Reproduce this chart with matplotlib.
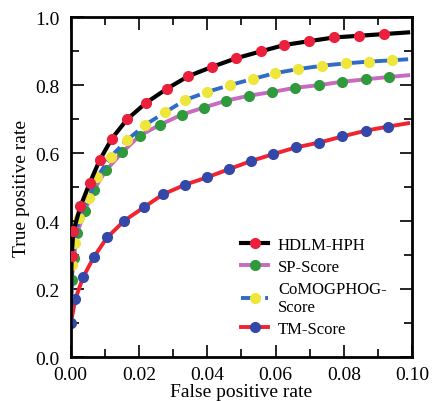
import matplotlib.pyplot as plt
from matplotlib.ticker import MultipleLocator

plt.rcParams['font.family'] = ['Liberation Serif', 'DejaVu Serif']

# HDLM-HPH (black line, red markers)
hdlm_x = [0.0, 0.0003, 0.0008, 0.0029, 0.0056, 0.0085, 0.0121, 0.0166, 0.0221, 0.0283, 0.0344,
          0.0415, 0.0485, 0.0556, 0.0626, 0.0697, 0.0770, 0.0843, 0.0916, 0.0988]
hdlm_y = [0.10, 0.297, 0.370, 0.444, 0.512, 0.579, 0.643, 0.700, 0.748, 0.790, 0.826,
          0.854, 0.879, 0.899, 0.918, 0.929, 0.940, 0.945, 0.950, 0.955]

# SP-Score (pink line, green markers)
sp_x = [0.0, 0.0003, 0.0010, 0.0019, 0.0041, 0.0068, 0.0105, 0.0151, 0.0202, 0.0261, 0.0325,
        0.0390, 0.0455, 0.0523, 0.0591, 0.0657, 0.0728, 0.0795, 0.0864, 0.0932, 0.0988]
sp_y = [0.10, 0.226, 0.293, 0.364, 0.429, 0.492, 0.551, 0.602, 0.651, 0.683, 0.713,
        0.734, 0.754, 0.769, 0.780, 0.792, 0.800, 0.810, 0.817, 0.824, 0.829]

# CoMOGPHOG-Score (blue dashed line, yellow markers)
como_x = [0.0, 0.0005, 0.0012, 0.0024, 0.0053, 0.0078, 0.0118, 0.0165, 0.0218, 0.0277, 0.0335,
          0.0400, 0.0466, 0.0533, 0.0598, 0.0665, 0.0737, 0.0805, 0.0873, 0.0941, 0.0988]
como_y = [0.10, 0.271, 0.335, 0.408, 0.467, 0.530, 0.590, 0.638, 0.683, 0.720, 0.756,
          0.780, 0.800, 0.818, 0.835, 0.847, 0.857, 0.864, 0.869, 0.873, 0.876]

# TM-Score (red line, blue markers)
tm_x = [0.0001, 0.0014, 0.0037, 0.0069, 0.0107, 0.0157, 0.0215, 0.0271, 0.0335, 0.0400,
        0.0464, 0.0529, 0.0593, 0.0660, 0.0728, 0.0795, 0.0864, 0.0929, 0.0988]
tm_y = [0.101, 0.171, 0.236, 0.296, 0.352, 0.401, 0.441, 0.479, 0.507, 0.529,
        0.553, 0.577, 0.597, 0.617, 0.631, 0.649, 0.666, 0.678, 0.688]

fig = plt.figure(figsize=(4.33, 4.02), dpi=100)
ax = fig.add_axes([0.163, 0.109, 0.789, 0.846])

ms = 7
lw = 2.8
ax.plot(tm_x, tm_y, color='#f2222e', lw=lw, marker='o', ms=ms, mfc='#3348a8', mec='#3348a8',
        markevery=list(range(len(tm_x) - 1)), label='TM-Score', zorder=2)
ax.plot(sp_x, sp_y, color='#c86ac0', lw=lw, marker='o', ms=ms, mfc='#2f9a3c', mec='#2f9a3c',
        markevery=list(range(1, len(sp_x) - 1)), label='SP-Score', zorder=3)
ax.plot(como_x, como_y, color='#2f6cc8', lw=lw, ls=(0, (5, 1.2)), marker='o', ms=ms,
        mfc='#eee63a', mec='#eee63a', markevery=list(range(1, len(como_x) - 1)),
        label='CoMOGPHOG-\nScore', zorder=4)
ax.plot(hdlm_x, hdlm_y, color='black', lw=3.0, marker='o', ms=ms, mfc='#ec1f3c', mec='#ec1f3c',
        markevery=list(range(1, len(hdlm_x) - 1)), label='HDLM-HPH', zorder=5)

ax.set_xlim(0, 0.10)
ax.set_ylim(0, 1.0)
ax.xaxis.set_major_locator(MultipleLocator(0.02))
ax.xaxis.set_minor_locator(MultipleLocator(0.01))
ax.yaxis.set_major_locator(MultipleLocator(0.2))
ax.yaxis.set_minor_locator(MultipleLocator(0.1))
ax.set_xticklabels(['%.2f' % v for v in ax.get_xticks()])
ax.set_yticklabels(['%.1f' % v for v in ax.get_yticks()])
ax.tick_params(which='both', direction='in', top=True, right=True, width=1.2, labelsize=14)
ax.tick_params(axis='x', which='major', pad=6)
ax.tick_params(axis='y', which='major', pad=8)
ax.tick_params(which='major', length=9)
ax.tick_params(which='minor', length=6)
for s in ax.spines.values():
    s.set_linewidth(2)

ax.set_xlabel('False positive rate', fontsize=14, labelpad=0)
ax.set_ylabel('True positive rate', fontsize=14, labelpad=4)

h, l = ax.get_legend_handles_labels()
order = [3, 1, 2, 0]
ax.legend([h[i] for i in order], [l[i] for i in order], loc='lower left',
          bbox_to_anchor=(0.48, 0.04), frameon=False, fontsize=12, handlelength=1.6,
          handletextpad=0.6, labelspacing=0.35, borderaxespad=0)

fig.savefig('out.png', dpi=100)
